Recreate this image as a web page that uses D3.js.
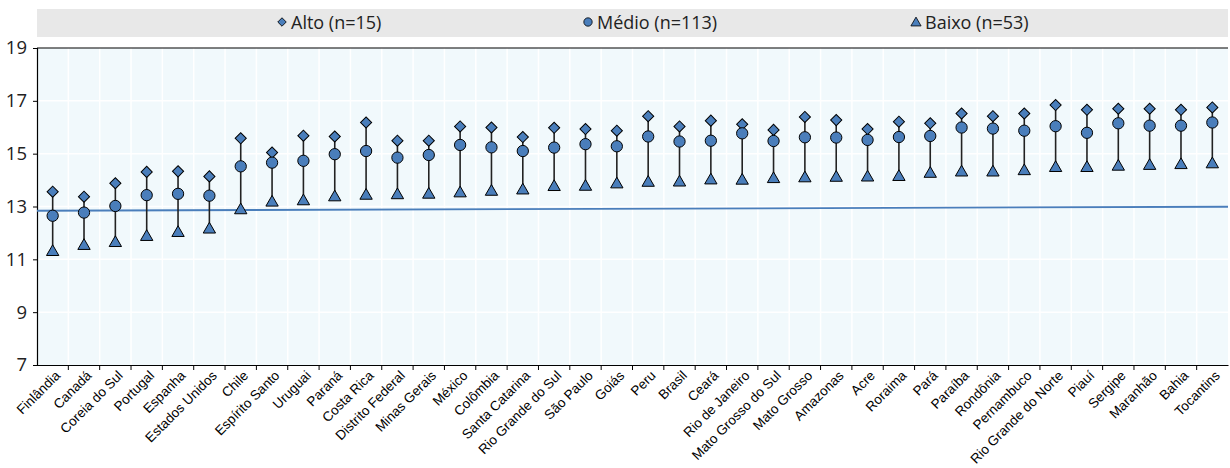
<!DOCTYPE html>
<html><head><meta charset="utf-8">
<script src="https://cdn.jsdelivr.net/npm/d3@7"></script>
<style>body{margin:0;background:#fff}svg{display:block}</style>
</head><body><svg id="c" width="1230" height="468"></svg>
<script>
const categories = ["Finlândia","Canadá","Coreia do Sul","Portugal","Espanha","Estados Unidos","Chile","Espírito Santo","Uruguai","Paraná","Costa Rica","Distrito Federal","Minas Gerais","México","Colômbia","Santa Catarina","Rio Grande do Sul","São Paulo","Goiás","Peru","Brasil","Ceará","Rio de Janeiro","Mato Grosso do Sul","Mato Grosso","Amazonas","Acre","Roraima","Pará","Paraíba","Rondônia","Pernambuco","Rio Grande do Norte","Piauí","Sergipe","Maranhão","Bahia","Tocantins"];
const alto  = [13.56,13.37,13.88,14.31,14.33,14.14,15.58,15.04,15.68,15.65,16.18,15.49,15.49,16.03,15.99,15.63,15.98,15.93,15.87,16.42,16.03,16.25,16.11,15.90,16.39,16.27,15.93,16.21,16.15,16.52,16.42,16.52,16.84,16.66,16.70,16.70,16.66,16.75];
const medio = [12.65,12.77,13.02,13.43,13.48,13.41,14.52,14.66,14.73,14.98,15.10,14.85,14.95,15.33,15.24,15.10,15.23,15.36,15.28,15.65,15.46,15.49,15.77,15.48,15.62,15.61,15.52,15.63,15.67,15.99,15.95,15.87,16.04,15.79,16.15,16.06,16.06,16.18];
const baixo = [11.28,11.51,11.62,11.85,12.00,12.13,12.86,13.15,13.20,13.35,13.41,13.43,13.45,13.50,13.56,13.61,13.74,13.75,13.84,13.90,13.91,13.99,13.98,14.04,14.07,14.09,14.10,14.12,14.24,14.29,14.29,14.34,14.46,14.46,14.51,14.54,14.57,14.60];
const refLine = [12.84, 12.99];
const yTicks = [7,9,11,13,15,17,19];
const legendLabels = ["Alto (n=15)","Médio (n=113)","Baixo (n=53)"];

const svg = d3.select("#c");
const L=37, R=1228, T=48, B=365;
const x = d3.scaleBand().domain(categories).range([L,R]).paddingInner(0).paddingOuter(0);
const y = d3.scaleLinear().domain([7,19]).range([B,T]);
const fill = "#4a7ebb";
const diamondPath = (size)=>d3.symbol().type(d3.symbolSquare).size(size)();
const uiFont = "'Open Sans', 'Noto Sans', sans-serif";

// legend
svg.append("rect").attr("x",L).attr("y",9).attr("width",R-L).attr("height",28).attr("fill","#e8e8e8");
const legX = [282,588,916];
legendLabels.forEach((t,i)=>{
  let p;
  if(i==0) p = svg.append("path").attr("d",diamondPath(36)).attr("transform",`translate(${legX[i]},22) rotate(45)`);
  else if(i==1) p = svg.append("path").attr("d",d3.symbol().type(d3.symbolCircle).size(55)()).attr("transform",`translate(${legX[i]},22)`);
  else p = svg.append("path").attr("d",d3.symbol().type(d3.symbolTriangle).size(45)()).attr("transform",`translate(${legX[i]},23)`);
  p.attr("fill",fill).attr("stroke","#000").attr("stroke-width",0.8);
  svg.append("text").attr("x",legX[i]+9).attr("y",28.5).text(t)
    .style("font-family",uiFont).style("font-size","18px").attr("fill","#222");
});

// plot bg
svg.append("rect").attr("x",L).attr("y",T).attr("width",R-L).attr("height",B-T).attr("fill","#f1f9fc");
// grid
svg.append("g").selectAll("line").data(yTicks.slice(1,-1)).join("line")
  .attr("x1",L).attr("x2",R).attr("y1",d=>y(d)).attr("y2",d=>y(d)).attr("stroke","#fff").attr("stroke-width",1.5);
svg.append("g").selectAll("line").data(categories.slice(1)).join("line")
  .attr("x1",d=>x(d)).attr("x2",d=>x(d)).attr("y1",T).attr("y2",B).attr("stroke","#fff").attr("stroke-width",1.5);

// top border
svg.append("line").attr("x1",L).attr("x2",R).attr("y1",T).attr("y2",T).attr("stroke","#000").attr("stroke-width",1.2);

// y axis
const ya = svg.append("g").attr("transform",`translate(${L},0)`)
  .call(d3.axisLeft(y).tickValues(yTicks).tickSize(4).tickPadding(6));
ya.select(".domain").attr("stroke","#000").attr("stroke-width",1.2);
ya.selectAll(".tick line").attr("stroke","#000");
ya.selectAll("text").style("font-family",uiFont).style("font-size","18.5px").attr("fill","#222");

// x axis
const xa = svg.append("g").attr("transform",`translate(0,${B})`)
  .call(d3.axisBottom(x).tickSize(0).tickFormat(""));
xa.select(".domain").attr("stroke","#000").attr("stroke-width",1.2);
xa.append("g").selectAll("line").data(categories.slice(1)).join("line")
  .attr("x1",d=>x(d)).attr("x2",d=>x(d)).attr("y1",0).attr("y2",5).attr("stroke","#000");
xa.append("g").selectAll("text").data(categories).join("text")
  .attr("transform",d=>`translate(${x(d)+x.bandwidth()/2+5},${8}) rotate(-45)`)
  .attr("text-anchor","end").attr("dy","0.35em")
  .style("font-family","'Liberation Sans', Arial, sans-serif").style("font-size","13.5px").attr("fill","#000")
  .text(d=>d);

// reference line
svg.append("line").attr("x1",L).attr("x2",R).attr("y1",y(refLine[0])).attr("y2",y(refLine[1]))
  .attr("stroke","#4a7ebb").attr("stroke-width",1.8);

// stems & markers
const cx = d=>x(d)+x.bandwidth()/2;
const g = svg.append("g");
categories.forEach((c,i)=>{
  g.append("line").attr("x1",cx(c)).attr("x2",cx(c)).attr("y1",y(alto[i])).attr("y2",y(baixo[i]))
    .attr("stroke","#222").attr("stroke-width",1.6);
});
g.append("g").selectAll("path").data(categories).join("path")
  .attr("d",d3.symbol().type(d3.symbolTriangle).size(66)())
  .attr("transform",(d,i)=>`translate(${cx(d)},${y(baixo[i])})`)
  .attr("fill",fill).attr("stroke","#000").attr("stroke-width",1);
g.append("g").selectAll("path").data(categories).join("path")
  .attr("d",diamondPath(62))
  .attr("transform",(d,i)=>`translate(${cx(d)},${y(alto[i])}) rotate(45)`)
  .attr("fill",fill).attr("stroke","#000").attr("stroke-width",1);
g.append("g").selectAll("path").data(categories).join("path")
  .attr("d",d3.symbol().type(d3.symbolCircle).size(100)())
  .attr("transform",(d,i)=>`translate(${cx(d)},${y(medio[i])})`)
  .attr("fill",fill).attr("stroke","#000").attr("stroke-width",1);
</script></body></html>
